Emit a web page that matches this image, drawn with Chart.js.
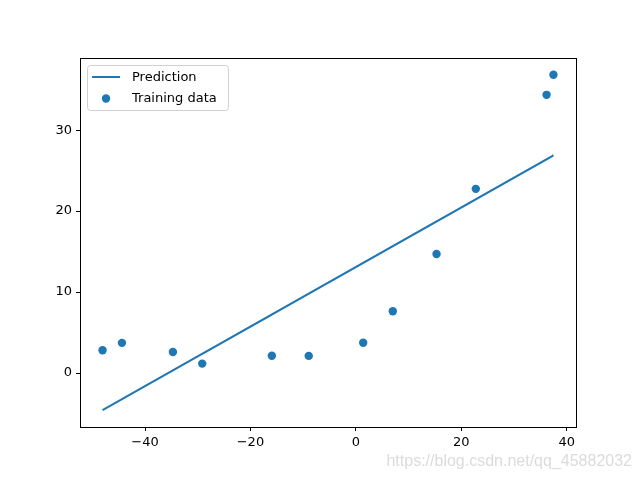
<!DOCTYPE html>
<html>
<head>
<meta charset="utf-8">
<script src="https://cdn.jsdelivr.net/npm/chart.js@4"></script>
<style>
  html, body { margin: 0; padding: 0; background: #fff; }
  #wrap { width: 640px; height: 480px; position: relative; }
</style>
</head>
<body>
<div id="wrap"><canvas id="fitChart" width="640" height="480"></canvas></div>
<script>
// training data (water level change vs water flowing out of the dam)
const xTrain = [-15.94, -29.15, 36.19, 37.49, -48.06, -8.94, 15.31, -34.71, 1.39, -44.38, 7.01, 22.76];
const yTrain = [2.13, 1.17, 34.36, 36.84, 2.81, 2.12, 14.71, 2.61, 3.74, 3.73, 7.63, 22.75];
// fitted line values at the same x, in the same order
const yPred = [7.23, 2.37, 26.40, 26.88, -4.59, 9.80, 18.72, 0.32, 13.60, -3.23, 15.67, 21.46];

const xTicks = [-40, -20, 0, 20, 40];
const yTicks = [0, 10, 20, 30];

const blue = '#1f77b4';
const tickFont = { family: 'DejaVu Sans', size: 13 };

const minus = v => String(v).replace('-', '\u2212');

const frame = {
  id: 'frame',
  afterDraw(chart) {
    let ctx = chart.ctx;
    let a = chart.chartArea;
    ctx.save();
    ctx.strokeStyle = '#000';
    ctx.lineWidth = 1;
    ctx.strokeRect(a.left + 0.5, a.top + 0.5, a.right - a.left, a.bottom - a.top);

    // legend box, upper left
    let lx = a.left + 7, ly = a.top + 7;
    ctx.fillStyle = 'rgba(255,255,255,0.8)';
    ctx.strokeStyle = '#d0d0d0';
    ctx.beginPath();
    ctx.roundRect(lx + 0.5, ly + 0.5, 141, 45, 3);
    ctx.fill();
    ctx.stroke();

    ctx.strokeStyle = blue;
    ctx.lineWidth = 2;
    ctx.beginPath();
    ctx.moveTo(lx + 5, ly + 12);
    ctx.lineTo(lx + 33, ly + 12);
    ctx.stroke();

    ctx.fillStyle = blue;
    ctx.beginPath();
    ctx.arc(lx + 19, ly + 33.5, 4.2, 0, Math.PI * 2);
    ctx.fill();

    ctx.fillStyle = '#000';
    ctx.font = '13px "DejaVu Sans"';
    ctx.textBaseline = 'middle';
    ctx.fillText('Prediction', lx + 45, ly + 12.5);
    ctx.fillText('Training data', lx + 45, ly + 33.5);

    // watermark
    ctx.fillStyle = 'rgba(215,215,215,0.9)';
    ctx.font = '16px "Liberation Sans"';
    ctx.textAlign = 'right';
    ctx.fillText('https://blog.csdn.net/qq_45882032', 632, 462);
    ctx.restore();
  }
};

let ctx = document.getElementById('fitChart');
let chart = new Chart(ctx, {
  type: 'scatter',
  data: {
    datasets: [
      {
        label: 'Prediction',
        data: xTrain.map((x, i) => ({ x: x, y: yPred[i] })),
        showLine: true,
        borderColor: blue,
        backgroundColor: blue,
        borderWidth: 2,
        pointRadius: 0,
        pointHoverRadius: 0,
        fill: false,
        order: 2
      },
      {
        label: 'Training data',
        data: xTrain.map((x, i) => ({ x: x, y: yTrain[i] })),
        backgroundColor: blue,
        borderColor: blue,
        pointBackgroundColor: blue,
        pointBorderColor: blue,
        pointRadius: 4.2,
        pointBorderWidth: 0,
        showLine: false,
        order: 1
      }
    ]
  },
  options: {
    responsive: false,
    animation: false,
    devicePixelRatio: 1,
    events: [],
    layout: { padding: { top: 58, right: 64, left: 0, bottom: 0 } },
    plugins: { legend: { display: false }, tooltip: { enabled: false } },
    scales: {
      x: {
        type: 'linear',
        min: -52.34,
        max: 41.77,
        afterBuildTicks: s => { s.ticks = xTicks.map(v => ({ value: v })); },
        afterFit: s => { s.height = 53; },
        grid: { display: true, drawOnChartArea: false, drawTicks: true, tickLength: 4, color: '#000' },
        border: { display: true, color: '#000' },
        ticks: { color: '#000', font: tickFont, padding: 4, maxRotation: 0, callback: minus }
      },
      y: {
        type: 'linear',
        min: -6.66,
        max: 38.91,
        afterBuildTicks: s => { s.ticks = yTicks.map(v => ({ value: v })); },
        afterFit: s => { s.width = 80; },
        grid: { display: true, drawOnChartArea: false, drawTicks: true, tickLength: 4, color: '#000' },
        border: { display: true, color: '#000' },
        ticks: { color: '#000', font: tickFont, padding: 4, callback: minus }
      }
    }
  },
  plugins: [frame]
});
</script>
</body>
</html>
